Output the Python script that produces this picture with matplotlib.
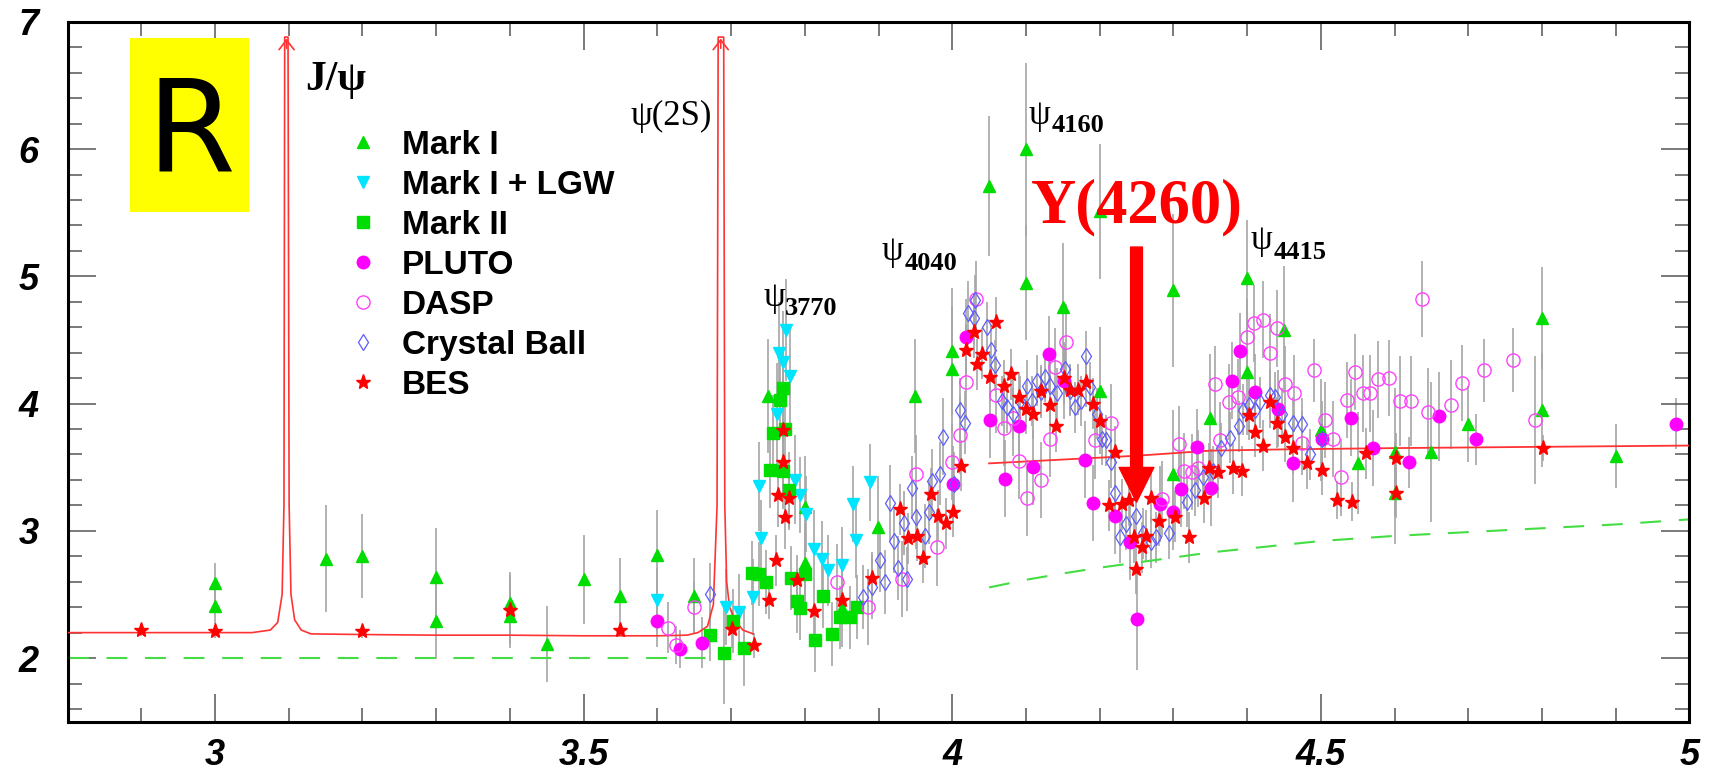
import numpy as np
import matplotlib
matplotlib.use("Agg")
import matplotlib.pyplot as plt
from matplotlib.patches import Rectangle
from matplotlib.ticker import MultipleLocator, FixedLocator
from matplotlib.font_manager import FontProperties

plt.rcParams['font.family'] = ['Liberation Sans', 'DejaVu Sans']

# ---- data (sqrt(s) in GeV, R) ----
mk1_x = [3.00, 3.00, 3.15, 3.20, 3.30, 3.30, 3.40, 3.40, 3.45, 3.50,
         3.55, 3.60, 3.65, 3.75, 3.80, 3.80, 3.85, 3.90, 3.95, 4.00,
         4.00, 4.05, 4.10, 4.10, 4.15, 4.20, 4.20, 4.30, 4.30, 4.35,
         4.40, 4.40, 4.45, 4.50, 4.55, 4.60, 4.60, 4.65, 4.70, 4.80,
         4.80, 4.90]
mk1_y = [2.59, 2.41, 2.78, 2.80, 2.64, 2.29, 2.43, 2.33, 2.11, 2.62,
         2.49, 2.81, 2.49, 4.06, 3.19, 2.75, 2.39, 3.03, 4.06, 4.41,
         4.27, 5.71, 6.00, 4.95, 4.76, 5.51, 4.10, 4.89, 3.45, 3.89,
         4.99, 4.25, 4.58, 3.79, 3.53, 3.62, 3.30, 3.62, 3.84, 4.67,
         3.95, 3.59]
mk1_e = [0.16, 0.14, 0.42, 0.33, 0.38, 0.30, 0.22, 0.22, 0.30, 0.35,
         0.30, 0.35, 0.30, 0.45, 0.40, 0.30, 0.30, 0.40, 0.45, 0.50,
         0.50, 0.55, 0.68, 0.45, 0.50, 0.53, 0.50, 0.60, 0.50, 0.50,
         0.45, 0.50, 0.50, 0.40, 0.40, 0.50, 0.40, 0.55, 0.30, 0.40,
         0.45, 0.25]

lgw_x = [3.600, 3.693, 3.711, 3.730, 3.738, 3.740, 3.762, 3.765, 3.771, 3.775,
         3.780, 3.787, 3.793, 3.802, 3.812, 3.823, 3.832, 3.851, 3.866, 3.870,
         3.888]
lgw_y = [2.46, 2.40, 2.36, 2.48, 3.35, 2.94, 3.92, 4.40, 4.33, 4.58,
         4.22, 3.40, 3.28, 3.13, 2.86, 2.78, 2.69, 2.73, 3.21, 2.93,
         3.38]
lgw_e = [0.25, 0.30, 0.30, 0.30, 0.35, 0.30, 0.40, 0.40, 0.40, 0.40,
         0.40, 0.35, 0.30, 0.30, 0.30, 0.30, 0.28, 0.30, 0.30, 0.30,
         0.30]

mk2_x = [3.671, 3.690, 3.702, 3.717, 3.728, 3.738, 3.747, 3.753, 3.757, 3.766,
         3.771, 3.773, 3.771, 3.778, 3.781, 3.789, 3.794, 3.800, 3.814, 3.825,
         3.837, 3.848, 3.861, 3.871]
mk2_y = [2.18, 2.04, 2.29, 2.08, 2.67, 2.66, 2.60, 3.48, 3.77, 4.03,
         4.12, 3.80, 3.47, 3.32, 2.63, 2.45, 2.39, 2.66, 2.14, 2.49,
         2.19, 2.32, 2.32, 2.40]
mk2_e = [0.20, 0.40, 0.25, 0.30, 0.25, 0.25, 0.25, 0.30, 0.30, 0.30,
         0.30, 0.30, 0.30, 0.30, 0.25, 0.25, 0.25, 0.25, 0.25, 0.25,
         0.25, 0.25, 0.25, 0.25]

pl_x = [3.600, 3.631, 3.660, 4.001, 4.019, 4.051, 4.072, 4.091, 4.110, 4.131,
        4.151, 4.180, 4.191, 4.221, 4.241, 4.250, 4.282, 4.300, 4.311, 4.332,
        4.351, 4.380, 4.391, 4.411, 4.442, 4.462, 4.501, 4.541, 4.571, 4.620,
        4.661, 4.711, 4.982]
pl_y = [2.29, 2.07, 2.12, 3.37, 4.52, 3.87, 3.41, 3.82, 3.50, 4.39,
        4.18, 3.56, 3.22, 3.12, 2.91, 2.31, 3.21, 3.15, 3.33, 3.66,
        3.34, 4.18, 4.41, 4.09, 3.96, 3.53, 3.72, 3.89, 3.65, 3.54,
        3.90, 3.72, 3.84]
pl_e = [0.20, 0.15, 0.20, 0.30, 0.30, 0.30, 0.30, 0.30, 0.30, 0.30,
        0.30, 0.30, 0.30, 0.30, 0.30, 0.40, 0.30, 0.30, 0.30, 0.30,
        0.30, 0.30, 0.30, 0.30, 0.30, 0.30, 0.30, 0.30, 0.30, 0.20,
        0.35, 0.20, 0.20]

ds_x = [3.614, 3.625, 3.650, 3.844, 3.886, 3.932, 3.951, 3.979, 4.000, 4.010,
        4.019, 4.032, 4.060, 4.070, 4.082, 4.091, 4.101, 4.121, 4.132, 4.139,
        4.155, 4.194, 4.215, 4.284, 4.307, 4.315, 4.325, 4.334, 4.356, 4.363,
        4.376, 4.388, 4.400, 4.410, 4.422, 4.431, 4.440, 4.451, 4.463, 4.475,
        4.491, 4.506, 4.516, 4.527, 4.536, 4.546, 4.557, 4.567, 4.577, 4.592,
        4.607, 4.622, 4.637, 4.646, 4.676, 4.691, 4.721, 4.761, 4.791]
ds_y = [2.24, 2.10, 2.40, 2.60, 2.40, 2.62, 3.45, 2.87, 3.54, 3.75,
        4.17, 4.82, 4.07, 3.81, 3.89, 3.55, 3.26, 3.40, 3.72, 4.29,
        4.48, 3.71, 3.85, 3.25, 3.68, 3.47, 3.46, 3.49, 4.15, 3.71,
        4.01, 4.05, 4.52, 4.63, 4.66, 4.40, 4.59, 4.15, 4.08, 3.69,
        4.26, 3.87, 3.72, 3.42, 4.03, 4.25, 4.08, 4.08, 4.19, 4.20,
        4.02, 4.02, 4.82, 3.93, 3.99, 4.16, 4.26, 4.34, 3.87]
ds_e = [0.20, 0.15, 0.20, 0.30, 0.30, 0.30, 0.30, 0.30, 0.30, 0.30,
        0.30, 0.30, 0.30, 0.30, 0.30, 0.30, 0.30, 0.30, 0.30, 0.30,
        0.30, 0.30, 0.30, 0.30, 0.30, 0.30, 0.30, 0.30, 0.30, 0.30,
        0.30, 0.30, 0.30, 0.30, 0.30, 0.30, 0.30, 0.30, 0.30, 0.25,
        0.25, 0.30, 0.30, 0.30, 0.30, 0.30, 0.30, 0.30, 0.30, 0.30,
        0.35, 0.35, 0.30, 0.35, 0.35, 0.30, 0.25, 0.25, 0.50]

cb_x = [3.671, 3.879, 3.891, 3.902, 3.909, 3.916, 3.921, 3.927, 3.934, 3.938,
        3.945, 3.951, 3.963, 3.968, 3.972, 3.983, 3.987, 4.002, 4.010, 4.017,
        4.022, 4.030, 4.031, 4.047, 4.053, 4.058, 4.067, 4.074, 4.083, 4.092,
        4.101, 4.108, 4.115, 4.121, 4.126, 4.133, 4.142, 4.153, 4.160, 4.167,
        4.175, 4.182, 4.187, 4.196, 4.203, 4.209, 4.216, 4.221, 4.227, 4.236,
        4.249, 4.259, 4.270, 4.277, 4.294, 4.318, 4.329, 4.340, 4.354, 4.364,
        4.377, 4.389, 4.394, 4.403, 4.411, 4.418, 4.431, 4.438, 4.447, 4.462,
        4.474, 4.485, 4.501]
cb_y = [2.50, 2.48, 2.56, 2.77, 2.60, 3.22, 2.92, 2.71, 3.06, 2.62,
        3.34, 3.11, 2.96, 3.15, 3.39, 3.45, 3.74, 3.37, 3.95, 3.85,
        4.71, 4.67, 4.81, 4.60, 4.42, 4.30, 4.02, 3.97, 3.92, 4.02,
        4.14, 4.02, 4.18, 4.09, 4.21, 4.14, 4.08, 4.27, 4.10, 3.97,
        4.02, 4.37, 4.13, 3.92, 3.72, 3.71, 3.54, 3.30, 2.95, 3.05,
        3.12, 2.98, 2.91, 2.95, 2.98, 3.23, 3.32, 3.42, 3.47, 3.65,
        3.73, 3.82, 3.95, 3.99, 3.95, 4.01, 4.07, 4.05, 3.92, 3.85,
        3.84, 3.60, 3.72]
cb_e = [0.25, 0.25, 0.25, 0.25, 0.25, 0.30, 0.25, 0.25, 0.25, 0.25,
        0.25, 0.25, 0.25, 0.25, 0.25, 0.25, 0.30, 0.25, 0.25, 0.25,
        0.25, 0.20, 0.20, 0.20, 0.20, 0.20, 0.20, 0.20, 0.20, 0.20,
        0.20, 0.20, 0.20, 0.20, 0.20, 0.20, 0.20, 0.20, 0.20, 0.20,
        0.20, 0.20, 0.20, 0.20, 0.20, 0.20, 0.20, 0.20, 0.20, 0.20,
        0.20, 0.20, 0.20, 0.20, 0.20, 0.20, 0.20, 0.20, 0.20, 0.20,
        0.20, 0.20, 0.20, 0.20, 0.20, 0.20, 0.20, 0.20, 0.20, 0.20,
        0.20, 0.20, 0.20]

bes_x = [2.900, 3.000, 3.200, 3.400, 3.549, 3.701, 3.731, 3.751, 3.761, 3.764,
         3.770, 3.771, 3.773, 3.779, 3.790, 3.812, 3.851, 3.891, 3.929, 3.940,
         3.952, 3.961, 3.971, 3.981, 3.991, 4.001, 4.012, 4.019, 4.029, 4.033,
         4.041, 4.051, 4.060, 4.070, 4.080, 4.091, 4.100, 4.110, 4.121, 4.132,
         4.141, 4.152, 4.160, 4.171, 4.181, 4.191, 4.201, 4.212, 4.221, 4.230,
         4.240, 4.246, 4.249, 4.257, 4.263, 4.270, 4.281, 4.302, 4.321, 4.341,
         4.349, 4.361, 4.381, 4.393, 4.402, 4.411, 4.421, 4.431, 4.441, 4.451,
         4.462, 4.481, 4.501, 4.522, 4.542, 4.561, 4.602, 4.602, 4.802]
bes_y = [2.22, 2.21, 2.21, 2.38, 2.22, 2.23, 2.10, 2.46, 2.77, 3.28,
         3.79, 3.54, 3.11, 3.26, 2.61, 2.37, 2.46, 2.63, 3.17, 2.94,
         2.96, 2.79, 3.29, 3.12, 3.06, 3.15, 3.51, 4.42, 4.56, 4.31,
         4.39, 4.21, 4.64, 4.14, 4.23, 4.05, 3.96, 3.92, 4.10, 3.99,
         3.82, 4.20, 4.11, 4.11, 4.17, 4.00, 3.86, 3.20, 3.62, 3.21,
         3.24, 2.95, 2.70, 2.87, 2.96, 3.26, 3.08, 3.11, 2.95, 3.26,
         3.49, 3.46, 3.49, 3.47, 3.91, 3.78, 3.67, 4.01, 3.85, 3.74,
         3.65, 3.53, 3.48, 3.24, 3.23, 3.61, 3.57, 3.30, 3.65]
bes_e = [0.05, 0.05, 0.05, 0.30, 0.05, 0.15, 0.10, 0.15, 0.20, 0.25,
         0.25, 0.25, 0.25, 0.25, 0.20, 0.20, 0.20, 0.20, 0.20, 0.20,
         0.20, 0.20, 0.20, 0.20, 0.20, 0.20, 0.20, 0.20, 0.20, 0.20,
         0.20, 0.20, 0.20, 0.20, 0.20, 0.20, 0.20, 0.20, 0.20, 0.20,
         0.20, 0.20, 0.20, 0.20, 0.20, 0.20, 0.20, 0.20, 0.20, 0.20,
         0.20, 0.20, 0.20, 0.20, 0.20, 0.20, 0.20, 0.20, 0.20, 0.20,
         0.20, 0.20, 0.20, 0.20, 0.20, 0.20, 0.20, 0.20, 0.20, 0.20,
         0.20, 0.20, 0.20, 0.15, 0.15, 0.20, 0.20, 0.20, 0.10]

# resonance curve (J/psi and psi(2S) spikes)
res_x = [2.80, 2.90, 3.00, 3.05, 3.075, 3.085, 3.091, 3.0935, 3.0945, 3.0990,
         3.1005, 3.103, 3.108, 3.117, 3.13, 3.20, 3.30, 3.40, 3.50, 3.60,
         3.64, 3.655, 3.668, 3.676, 3.681, 3.6825, 3.6900, 3.6915, 3.694, 3.698,
         3.705, 3.716, 3.73]
res_y = [2.20, 2.20, 2.20, 2.20, 2.22, 2.28, 2.50, 3.20, 6.88, 6.88,
         3.20, 2.50, 2.30, 2.22, 2.19, 2.185, 2.18, 2.18, 2.175, 2.175,
         2.18, 2.20, 2.25, 2.42, 3.20, 6.88, 6.88, 3.20, 2.60, 2.40,
         2.30, 2.22, 2.19]
peak_x = [3.097, 3.686]
peak_top = 6.89

# continuum above open charm threshold
cont_x = [4.05, 4.15, 4.25, 4.35, 4.45, 4.60, 4.80, 5.00]
cont_y = [3.53, 3.56, 3.59, 3.63, 3.64, 3.65, 3.66, 3.67]

# parton-model expectation (dashed)
qlo_x = [2.80, 3.68]
qlo_y = [2.00, 2.00]
qhi_x = [4.05, 4.10, 4.15, 4.20, 4.25, 4.30, 4.35, 4.40, 4.45, 4.50, 4.60, 4.70, 4.80, 4.90, 5.00]
qhi_y = [2.555, 2.615, 2.665, 2.71, 2.75, 2.79, 2.83, 2.86, 2.89, 2.92, 2.96, 2.99, 3.02, 3.05, 3.09]

# ---- figure ----
W, H = 1709, 775
fig = plt.figure(figsize=(W / 100, H / 100), dpi=100)
ax = fig.add_axes([67.6 / W, 1 - 721.7 / H, (1689.4 - 67.6) / W, (721.7 - 21.8) / H])
ax.set_xlim(2.8, 5.0)
ax.set_ylim(1.5, 7.0)

# yellow "R" box
ax.add_patch(Rectangle((2.884, 5.506), 0.162, 1.369, facecolor='#ffff00',
                       edgecolor='none', zorder=2))
ax.text(2.9675, 5.82, 'R', ha='center', va='baseline', fontsize=92,
        family='DejaVu Sans', color='black', zorder=3)

ecol = '#a6a6a6'
sets = [
    (mk1_x, mk1_y, mk1_e, dict(marker='^', color='#00dd00', ms=9), 'Mark I'),
    (lgw_x, lgw_y, lgw_e, dict(marker='v', color='#00e5ff', ms=9), 'Mark I + LGW'),
    (mk2_x, mk2_y, mk2_e, dict(marker='s', color='#00dd00', ms=8), 'Mark II'),
    (pl_x, pl_y, pl_e, dict(marker='o', color='#ff00ff', ms=9), 'PLUTO'),
    (ds_x, ds_y, ds_e, dict(marker='o', mfc='none', mec='#ff40ff', mew=1.0, ms=9.5), 'DASP'),
    (cb_x, cb_y, cb_e, dict(marker='d', mfc='none', mec='#5c5cff', mew=0.9, ms=8.5), 'Crystal Ball'),
    (bes_x, bes_y, bes_e, dict(marker='*', color='#ff0000', ms=11), 'BES'),
]
handles = []
for x, y, e, style, name in sets:
    ax.errorbar(x, y, yerr=e, fmt='none', ecolor=ecol, elinewidth=1.2, zorder=1)
for x, y, e, style, name in sets:
    h, = ax.plot(x, y, ls='none', zorder=4, label=name, **style)
    handles.append(h)

# curves
ax.plot(res_x, res_y, color='#ff3333', lw=1.2, zorder=3)
ax.plot(cont_x, cont_y, color='#ff3333', lw=1.3, zorder=3)
ax.plot(qlo_x, qlo_y, color='#44dd44', lw=1.5, ls=(0, (10, 8.5)), zorder=2)
ax.plot(qhi_x, qhi_y, color='#44dd44', lw=1.5, ls=(0, (10, 8.5)), zorder=2)
for px in peak_x:
    ax.annotate('', xy=(px, peak_top), xytext=(px, peak_top - 0.12),
                arrowprops=dict(arrowstyle='->,head_width=0.27,head_length=0.35',
                                color='#ff3333', lw=1.2, mutation_scale=20), zorder=3)

# labels of resonances
serif = 'Liberation Serif'
ax.text(3.122, 6.463, 'J/ψ', family=serif, fontweight='bold', fontsize=30,
        va='baseline', ha='left', zorder=5)
ax.text(3.563, 6.188, 'ψ(2S)', family=serif, fontsize=25, va='baseline', ha='left', zorder=5)
psi_labels = [('3770', 3.744, 4.764, 3.773, 4.693),
              ('4040', 3.904, 5.126, 3.936, 5.047),
              ('4160', 4.103, 6.196, 4.135, 6.135),
              ('4415', 4.404, 5.212, 4.4355, 5.139)]
for sub, x1, y1, x2, y2 in psi_labels:
    ax.text(x1, y1, 'ψ', family=serif, fontsize=25, va='baseline', ha='left', zorder=5)
    ax.text(x2, y2, sub, family=serif, fontweight='bold', fontsize=19,
            va='baseline', ha='left', zorder=5)

ax.text(4.25, 5.427, 'Y(4260)', family=serif, fontweight='bold', fontsize=45,
        color='#ff0000', ha='center', va='baseline', zorder=6)
ax.annotate('', xy=(4.25, 3.225), xytext=(4.25, 5.23),
            arrowprops=dict(facecolor='#ff0000', edgecolor='#ff0000', width=8.5,
                            headwidth=25, headlength=25, shrink=0), zorder=6)

# legend
leg = ax.legend(handles=handles, loc='upper left',
                bbox_to_anchor=(349.7 / W, 1 - 130 / H), bbox_transform=fig.transFigure,
                frameon=False, prop=FontProperties(family='Liberation Sans', weight='bold', size=24),
                handlelength=0.8, handletextpad=0.76, labelspacing=0.27,
                borderpad=0, borderaxespad=0, numpoints=1)
leg.set_zorder(7)

# axes styling
ax.xaxis.set_major_locator(FixedLocator([3.0, 3.5, 4.0, 4.5, 5.0]))
ax.set_xticklabels(['3', '3.5', '4', '4.5', '5'])
ax.xaxis.set_minor_locator(MultipleLocator(0.1))
ax.yaxis.set_major_locator(FixedLocator([2, 3, 4, 5, 6, 7]))
ax.set_yticklabels(['2', '3', '4', '5', '6', '7'])
ax.yaxis.set_minor_locator(MultipleLocator(0.2))
ax.tick_params(which='both', direction='in', top=True, right=True, color='#555555', width=1.1)
ax.tick_params(which='major', length=20)
ax.tick_params(which='minor', length=10)
ax.tick_params(axis='x', which='major', pad=12)
ax.tick_params(axis='y', which='major', pad=21)
for lbl in ax.get_xticklabels() + ax.get_yticklabels():
    lbl.set_fontproperties(FontProperties(family='Liberation Sans', weight='bold',
                                          style='italic', size=26))
for sp in ax.spines.values():
    sp.set_linewidth(2.2)
    sp.set_color('black')

fig.savefig('out.png', dpi=100)
